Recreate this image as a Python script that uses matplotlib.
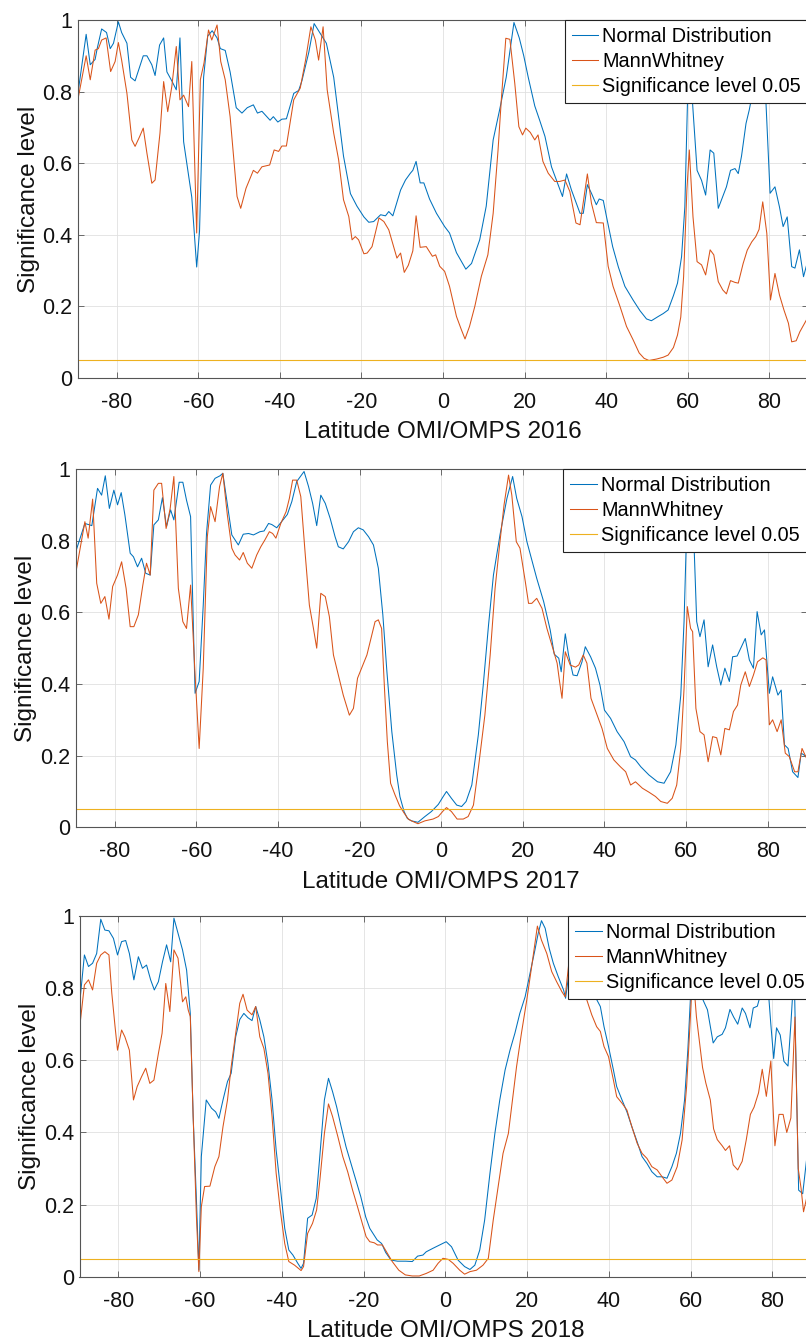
import matplotlib
matplotlib.use('Agg')
import matplotlib.pyplot as plt

plt.rcParams['font.family'] = ['Liberation Sans', 'DejaVu Sans']

# ---------------- data: (latitude, significance) ----------------
nd_2016 = [(-89.7,0.78),(-87.5,0.96),(-86.5,0.875),(-85.3,0.89),(-84.8,0.92),(-83.7,0.975),(-82.5,0.965),(-81.6,0.92),(-80.8,0.935),(-79.6,0.995),(-78.8,0.965),(-77.5,0.935),(-76.6,0.84),(-75.5,0.83),(-73.5,0.90),(-72.6,0.90),(-71.4,0.875),(-70.6,0.845),(-69.5,0.93),(-68.5,0.95),(-67.7,0.855),(-66.5,0.83),(-65.4,0.805),(-64.5,0.95),(-63.6,0.66),(-61.6,0.505),(-60.4,0.31),(-59.7,0.41),(-58.7,0.84),(-57.7,0.955),(-56.6,0.97),(-55.4,0.95),(-54.6,0.92),(-53.4,0.915),(-52.2,0.855),(-50.7,0.755),(-49.3,0.74),(-48.0,0.755),(-46.5,0.763),(-45.5,0.74),(-44.4,0.745),(-42.4,0.72),(-41.6,0.73),(-40.5,0.715),(-39.5,0.723),(-38.4,0.724),(-36.6,0.795),(-35.4,0.803),(-34.6,0.83),(-32.9,0.91),(-31.6,0.99),(-30.5,0.97),(-29.7,0.955),(-28.6,0.935),(-26.8,0.84),(-24.4,0.62),(-22.7,0.515),(-21.1,0.48),(-19.4,0.45),(-18.2,0.435),(-17.0,0.437),(-15.3,0.456),(-14.1,0.453),(-13.3,0.465),(-12.3,0.453),(-10.4,0.525),(-9.2,0.553),(-8.0,0.572),(-7.4,0.58),(-6.6,0.605),(-5.6,0.545),(-4.7,0.545),(-3.3,0.50),(-1.6,0.46),(0.4,0.423),(1.6,0.405),(3.3,0.35),(5.6,0.304),(7.0,0.32),(9.0,0.386),(10.6,0.48),(12.3,0.665),(13.9,0.75),(15.5,0.84),(17.4,0.993),(18.7,0.95),(19.8,0.90),(20.9,0.84),(22.5,0.76),(23.7,0.72),(25.0,0.675),(26.6,0.59),(27.8,0.553),(29.3,0.507),(30.3,0.57),(31.5,0.525),(33.6,0.46),(34.4,0.46),(35.4,0.54),(36.4,0.516),(37.6,0.484),(38.3,0.50),(39.3,0.496),(40.1,0.45),(41.6,0.367),(43.0,0.31),(44.6,0.256),(46.6,0.218),(48.3,0.188),(49.9,0.165),(51.1,0.16),(52.8,0.172),(54.0,0.18),(55.2,0.19),(56.5,0.23),(57.5,0.265),(58.5,0.339),(59.3,0.478),(60.3,0.93),(61.3,0.749),(62.3,0.58),(63.4,0.552),(64.4,0.511),(65.5,0.637),(66.4,0.628),(67.5,0.474),(68.6,0.507),(69.5,0.534),(70.5,0.58),(71.6,0.585),(72.4,0.571),(73.2,0.62),(74.3,0.711),(75.1,0.749),(76.3,0.82),(77.5,0.85),(78.4,0.83),(79.2,0.767),(80.2,0.516),(81.4,0.534),(82.5,0.478),(83.4,0.423),(84.4,0.45),(85.5,0.311),(86.3,0.307),(87.4,0.358),(88.4,0.283),(89.5,0.33)]

mw_2016 = [(-89.7,0.767),(-87.5,0.90),(-86.5,0.833),(-85.3,0.916),(-84.5,0.92),(-83.7,0.944),(-82.6,0.95),(-81.5,0.856),(-80.4,0.884),(-79.6,0.937),(-78.8,0.888),(-77.5,0.795),(-76.3,0.665),(-75.5,0.647),(-74.4,0.674),(-73.5,0.698),(-72.6,0.628),(-71.4,0.544),(-70.6,0.553),(-69.4,0.684),(-68.5,0.828),(-67.5,0.744),(-66.5,0.814),(-65.4,0.926),(-64.5,0.777),(-63.6,0.79),(-62.4,0.758),(-61.6,0.884),(-60.4,0.405),(-59.5,0.833),(-58.6,0.88),(-57.5,0.972),(-56.7,0.944),(-55.4,0.986),(-54.5,0.884),(-53.4,0.833),(-52.2,0.73),(-50.5,0.507),(-49.6,0.474),(-48.3,0.53),(-46.5,0.58),(-45.5,0.572),(-44.4,0.59),(-42.5,0.595),(-41.4,0.637),(-40.3,0.633),(-39.5,0.648),(-38.4,0.648),(-36.6,0.777),(-35.0,0.81),(-33.7,0.888),(-32.4,0.981),(-31.3,0.944),(-30.5,0.888),(-29.4,0.981),(-28.4,0.805),(-26.8,0.684),(-25.6,0.61),(-24.4,0.498),(-23.1,0.451),(-22.3,0.386),(-21.5,0.395),(-20.7,0.386),(-19.4,0.347),(-18.6,0.349),(-17.4,0.367),(-15.7,0.447),(-14.5,0.437),(-13.3,0.414),(-12.1,0.367),(-11.3,0.335),(-10.4,0.349),(-9.5,0.295),(-8.5,0.315),(-7.4,0.355),(-6.6,0.453),(-5.6,0.365),(-4.1,0.367),(-2.6,0.34),(-1.8,0.344),(-0.8,0.312),(0.4,0.298),(1.6,0.256),(3.3,0.172),(4.5,0.135),(5.4,0.109),(6.5,0.144),(7.8,0.2),(9.4,0.284),(11.0,0.344),(12.3,0.46),(13.5,0.637),(14.3,0.777),(15.4,0.949),(16.4,0.946),(17.6,0.823),(18.6,0.702),(19.5,0.679),(20.3,0.698),(21.4,0.686),(22.5,0.665),(23.3,0.679),(24.5,0.605),(25.8,0.572),(27.4,0.549),(28.6,0.549),(29.9,0.553),(31.1,0.521),(32.6,0.433),(33.6,0.428),(35.4,0.57),(36.4,0.488),(37.6,0.434),(39.3,0.433),(40.5,0.312),(41.7,0.256),(43.4,0.2),(45.0,0.144),(46.6,0.107),(48.1,0.07),(49.3,0.055),(50.5,0.049),(52.4,0.053),(54.0,0.058),(55.2,0.064),(56.5,0.085),(57.5,0.12),(58.3,0.17),(59.0,0.283),(59.8,0.525),(60.4,0.637),(61.3,0.45),(62.3,0.325),(63.4,0.316),(64.4,0.288),(65.5,0.358),(66.4,0.344),(67.5,0.269),(68.6,0.246),(69.5,0.235),(70.5,0.272),(71.6,0.267),(72.4,0.265),(73.6,0.32),(74.6,0.357),(75.7,0.38),(76.7,0.395),(77.5,0.415),(78.4,0.492),(79.4,0.404),(80.3,0.218),(81.4,0.292),(82.5,0.232),(83.6,0.19),(84.7,0.153),(85.5,0.101),(86.6,0.104),(87.5,0.129),(89.5,0.17)]

nd_2017 = [(-89.4,0.774),(-87.3,0.848),(-85.6,0.842),(-84.2,0.946),(-83.2,0.927),(-82.3,0.981),(-81.3,0.89),(-80.2,0.941),(-79.3,0.90),(-78.4,0.934),(-77.5,0.872),(-76.2,0.765),(-75.4,0.755),(-74.4,0.727),(-73.4,0.751),(-72.4,0.709),(-71.3,0.704),(-70.4,0.844),(-69.3,0.858),(-68.3,0.92),(-67.3,0.839),(-66.3,0.886),(-65.5,0.858),(-64.2,0.963),(-63.3,0.963),(-62.4,0.913),(-61.4,0.867),(-60.3,0.374),(-59.3,0.407),(-58.3,0.62),(-57.5,0.82),(-56.5,0.955),(-55.4,0.974),(-54.2,0.981),(-53.5,0.988),(-52.5,0.909),(-51.3,0.816),(-49.7,0.788),(-48.5,0.818),(-47.2,0.82),(-46.0,0.816),(-44.4,0.825),(-43.4,0.827),(-42.3,0.848),(-41.5,0.845),(-40.3,0.836),(-39.1,0.853),(-37.7,0.873),(-36.6,0.909),(-35.4,0.965),(-33.6,0.993),(-32.5,0.951),(-31.5,0.904),(-30.5,0.842),(-29.5,0.927),(-28.4,0.904),(-27.2,0.862),(-26.0,0.811),(-25.2,0.783),(-24.0,0.777),(-22.7,0.797),(-21.5,0.825),(-20.3,0.836),(-19.1,0.83),(-17.8,0.811),(-16.6,0.788),(-15.4,0.723),(-14.3,0.593),(-13.3,0.434),(-12.1,0.267),(-10.9,0.146),(-10.1,0.085),(-9.1,0.044),(-8.3,0.025),(-7.3,0.018),(-5.7,0.014),(-4.0,0.03),(-2.4,0.044),(-0.7,0.064),(0.5,0.086),(1.3,0.1),(2.5,0.081),(3.8,0.062),(5.0,0.058),(6.1,0.072),(7.5,0.118),(9.1,0.258),(10.3,0.397),(11.6,0.565),(12.8,0.704),(14.4,0.816),(16.1,0.918),(17.5,0.979),(18.5,0.918),(19.8,0.867),(21.0,0.797),(22.2,0.746),(23.4,0.695),(25.1,0.63),(26.7,0.551),(27.7,0.483),(28.8,0.472),(29.4,0.434),(30.4,0.54),(31.2,0.481),(32.3,0.425),(33.3,0.423),(34.5,0.462),(35.3,0.504),(36.6,0.476),(37.8,0.444),(38.9,0.397),(40.0,0.327),(41.5,0.304),(43.1,0.267),(44.8,0.239),(46.4,0.197),(47.6,0.188),(48.9,0.169),(50.9,0.146),(53.0,0.127),(54.6,0.123),(56.2,0.155),(57.5,0.23),(58.7,0.369),(59.5,0.574),(60.3,0.9),(61.4,0.92),(62.0,0.77),(62.6,0.574),(63.4,0.532),(64.4,0.579),(65.4,0.448),(66.5,0.509),(67.5,0.448),(68.5,0.397),(69.5,0.444),(70.6,0.407),(71.4,0.476),(72.5,0.478),(73.4,0.5),(74.5,0.527),(75.5,0.467),(76.5,0.444),(77.4,0.602),(78.4,0.537),(79.2,0.551),(80.4,0.374),(81.2,0.42),(82.5,0.369),(83.3,0.383),(84.1,0.23),(85.0,0.22),(86.1,0.155),(87.4,0.139),(88.2,0.207),(89.5,0.197)]

mw_2017 = [(-89.4,0.718),(-87.3,0.853),(-86.5,0.807),(-85.4,0.916),(-84.4,0.681),(-83.4,0.625),(-82.4,0.644),(-81.4,0.581),(-80.5,0.672),(-79.3,0.704),(-78.3,0.741),(-77.2,0.667),(-76.2,0.56),(-75.3,0.56),(-74.2,0.593),(-73.1,0.676),(-72.2,0.737),(-71.3,0.704),(-70.4,0.941),(-69.3,0.96),(-68.5,0.96),(-67.4,0.834),(-66.4,0.89),(-65.5,0.979),(-64.4,0.667),(-63.3,0.574),(-62.4,0.555),(-61.4,0.676),(-60.3,0.425),(-59.3,0.22),(-58.3,0.444),(-57.3,0.811),(-56.5,0.895),(-55.4,0.853),(-54.3,0.951),(-53.5,0.988),(-52.4,0.872),(-51.3,0.779),(-50.5,0.76),(-49.4,0.746),(-48.5,0.767),(-47.5,0.737),(-46.4,0.723),(-45.2,0.76),(-44.2,0.783),(-43.2,0.802),(-42.1,0.825),(-41.3,0.82),(-40.5,0.807),(-39.3,0.848),(-38.0,0.881),(-37.2,0.918),(-36.4,0.969),(-35.4,0.969),(-34.4,0.923),(-33.3,0.76),(-32.3,0.62),(-31.3,0.555),(-30.5,0.5),(-29.5,0.653),(-28.4,0.644),(-27.4,0.588),(-26.4,0.481),(-25.2,0.425),(-24.0,0.369),(-22.5,0.313),(-21.5,0.332),(-20.5,0.416),(-19.5,0.444),(-18.2,0.481),(-17.3,0.523),(-16.2,0.574),(-15.4,0.579),(-14.6,0.555),(-13.9,0.388),(-13.2,0.239),(-12.4,0.123),(-11.3,0.09),(-10.2,0.06),(-9.1,0.04),(-8.0,0.022),(-6.9,0.016),(-5.7,0.01),(-4.0,0.018),(-2.0,0.023),(-0.7,0.03),(0.5,0.046),(1.3,0.055),(2.5,0.044),(3.9,0.023),(5.4,0.023),(6.6,0.03),(7.9,0.062),(9.1,0.165),(10.7,0.313),(12.0,0.481),(13.2,0.667),(14.4,0.797),(15.4,0.9),(16.5,0.983),(17.3,0.927),(18.4,0.797),(19.3,0.779),(20.6,0.686),(21.4,0.625),(22.2,0.625),(23.4,0.639),(24.7,0.611),(25.9,0.555),(27.1,0.509),(28.4,0.458),(29.0,0.407),(29.6,0.36),(30.4,0.49),(31.6,0.453),(32.9,0.447),(33.7,0.453),(34.8,0.481),(35.7,0.458),(36.7,0.36),(38.2,0.313),(39.4,0.276),(40.7,0.22),(42.3,0.188),(43.9,0.169),(45.2,0.155),(46.4,0.118),(47.6,0.127),(49.3,0.109),(50.9,0.098),(52.5,0.086),(53.8,0.072),(55.4,0.067),(56.6,0.081),(57.7,0.118),(58.7,0.22),(59.5,0.388),(60.3,0.616),(61.1,0.555),(61.6,0.546),(62.4,0.332),(63.4,0.267),(64.4,0.258),(65.4,0.183),(66.5,0.253),(67.5,0.25),(68.5,0.202),(69.5,0.276),(70.6,0.272),(71.6,0.323),(72.6,0.341),(73.4,0.397),(74.5,0.434),(75.5,0.393),(76.5,0.425),(77.5,0.462),(78.8,0.473),(79.6,0.467),(80.4,0.286),(81.2,0.3),(82.3,0.267),(83.3,0.3),(84.3,0.207),(85.3,0.197),(86.6,0.155),(87.4,0.155),(88.4,0.22),(89.5,0.193)]

nd_2018 = [(-89.3,0.776),(-88.3,0.892),(-87.3,0.86),(-86.3,0.869),(-85.3,0.896),(-84.3,0.991),(-83.3,0.961),(-82.3,0.959),(-81.2,0.938),(-80.2,0.892),(-79.2,0.929),(-78.2,0.932),(-77.3,0.896),(-76.2,0.823),(-75.1,0.887),(-74.1,0.855),(-73.1,0.864),(-72.1,0.823),(-71.2,0.795),(-70.2,0.818),(-69.2,0.873),(-68.2,0.92),(-67.2,0.873),(-66.4,0.994),(-65.4,0.952),(-64.3,0.906),(-63.3,0.85),(-62.4,0.73),(-61.7,0.444),(-60.9,0.213),(-60.3,0.018),(-59.7,0.333),(-58.5,0.49),(-57.2,0.467),(-56.2,0.457),(-55.4,0.439),(-54.4,0.49),(-53.3,0.541),(-52.4,0.564),(-51.3,0.665),(-50.3,0.713),(-49.3,0.73),(-48.3,0.718),(-47.3,0.71),(-46.4,0.749),(-45.4,0.712),(-44.4,0.665),(-43.4,0.591),(-42.4,0.49),(-41.4,0.351),(-40.4,0.25),(-39.3,0.134),(-38.3,0.074),(-37.3,0.06),(-36.1,0.037),(-35.3,0.023),(-34.7,0.037),(-33.7,0.162),(-32.6,0.171),(-31.6,0.217),(-30.8,0.323),(-29.6,0.49),(-28.6,0.55),(-27.6,0.513),(-26.6,0.471),(-25.5,0.416),(-24.3,0.36),(-23.1,0.314),(-21.9,0.268),(-20.7,0.222),(-19.5,0.166),(-18.5,0.134),(-17.5,0.116),(-16.7,0.102),(-15.6,0.092),(-14.6,0.067),(-13.3,0.046),(-11.7,0.043),(-9.7,0.043),(-8.1,0.042),(-6.8,0.057),(-5.5,0.06),(-4.7,0.069),(-3.0,0.079),(-1.4,0.088),(0.2,0.097),(1.5,0.083),(3.1,0.046),(4.7,0.028),(6.0,0.02),(7.2,0.032),(8.4,0.074),(9.6,0.157),(10.9,0.287),(12.1,0.397),(13.3,0.49),(14.6,0.573),(15.8,0.628),(17.0,0.675),(18.2,0.73),(19.5,0.776),(20.7,0.841),(21.9,0.906),(22.7,0.952),(23.5,0.987),(24.4,0.966),(25.4,0.91),(26.4,0.869),(27.6,0.832),(28.9,0.795),(29.4,0.772),(30.1,0.832),(30.7,0.887),(32.0,0.86),(34.0,0.82),(36.0,0.79),(37.9,0.749),(38.8,0.693),(39.9,0.638),(41.1,0.573),(41.9,0.527),(43.2,0.49),(44.4,0.457),(45.6,0.416),(46.9,0.374),(48.1,0.333),(49.3,0.314),(50.5,0.291),(51.8,0.277),(53.0,0.277),(54.2,0.273),(55.4,0.305),(56.5,0.342),(57.5,0.397),(58.5,0.49),(59.3,0.628),(59.9,0.767),(60.5,0.9),(61.2,0.82),(62.5,0.78),(64.1,0.74),(65.5,0.648),(66.5,0.665),(67.7,0.672),(68.5,0.69),(69.6,0.741),(70.5,0.72),(71.5,0.70),(72.6,0.745),(73.4,0.73),(74.5,0.69),(75.3,0.745),(76.3,0.75),(77.5,0.8),(78.8,0.82),(79.6,0.7),(80.3,0.605),(81.0,0.69),(81.9,0.67),(82.8,0.597),(83.8,0.584),(84.5,0.7),(85.3,0.85),(86.4,0.24),(87.4,0.23),(88.4,0.33),(89.5,0.22)]

mw_2018 = [(-89.3,0.707),(-88.3,0.809),(-87.3,0.823),(-86.3,0.795),(-85.3,0.869),(-84.3,0.892),(-83.3,0.901),(-82.3,0.892),(-81.6,0.786),(-80.8,0.693),(-80.2,0.628),(-79.2,0.684),(-78.4,0.665),(-77.3,0.628),(-76.3,0.49),(-75.4,0.527),(-74.3,0.555),(-73.3,0.578),(-72.3,0.536),(-71.3,0.545),(-70.2,0.619),(-69.3,0.675),(-68.4,0.813),(-67.4,0.735),(-66.4,0.906),(-65.4,0.883),(-64.3,0.762),(-63.5,0.776),(-62.9,0.739),(-62.4,0.721),(-61.7,0.444),(-60.9,0.166),(-60.3,0.014),(-59.7,0.194),(-58.9,0.25),(-57.6,0.251),(-56.4,0.305),(-55.4,0.333),(-54.4,0.416),(-53.3,0.49),(-52.4,0.582),(-51.3,0.675),(-50.3,0.758),(-49.5,0.783),(-48.5,0.739),(-47.3,0.726),(-46.4,0.749),(-45.4,0.665),(-44.4,0.633),(-43.4,0.564),(-42.4,0.444),(-41.4,0.287),(-40.4,0.185),(-39.3,0.092),(-38.3,0.042),(-36.9,0.032),(-35.3,0.017),(-34.7,0.028),(-33.7,0.12),(-32.5,0.148),(-31.5,0.185),(-30.7,0.268),(-29.6,0.397),(-28.6,0.479),(-27.6,0.444),(-26.3,0.388),(-25.1,0.333),(-23.9,0.291),(-22.7,0.24),(-21.5,0.194),(-20.2,0.143),(-19.4,0.111),(-18.5,0.097),(-17.4,0.094),(-16.6,0.088),(-15.4,0.088),(-14.2,0.065),(-13.0,0.042),(-11.4,0.018),(-9.8,0.005),(-8.1,0.002),(-6.4,0.002),(-4.7,0.009),(-3.0,0.018),(-1.8,0.037),(-0.6,0.051),(0.7,0.048),(1.9,0.037),(3.5,0.018),(4.7,0.007),(6.0,0.014),(7.6,0.018),(9.2,0.032),(10.5,0.051),(11.7,0.157),(12.9,0.25),(14.1,0.342),(15.4,0.397),(16.4,0.49),(17.4,0.582),(18.6,0.675),(19.9,0.767),(21.1,0.86),(22.5,0.972),(23.5,0.933),(24.8,0.896),(26.0,0.846),(27.2,0.818),(28.5,0.79),(29.3,0.776),(30.1,0.86),(30.5,0.929),(32.0,0.86),(33.5,0.8),(34.6,0.767),(35.8,0.726),(37.0,0.693),(37.9,0.68),(38.8,0.638),(39.9,0.61),(41.1,0.545),(41.9,0.499),(43.2,0.481),(44.4,0.462),(45.6,0.416),(46.9,0.37),(48.1,0.342),(49.3,0.328),(50.5,0.305),(51.8,0.296),(53.0,0.277),(54.2,0.259),(55.4,0.268),(56.7,0.305),(57.9,0.379),(59.0,0.527),(59.8,0.693),(60.5,0.85),(61.4,0.721),(62.0,0.665),(62.9,0.58),(63.7,0.537),(64.8,0.49),(65.6,0.41),(66.5,0.38),(67.7,0.363),(68.5,0.35),(69.5,0.363),(70.4,0.31),(71.5,0.296),(72.6,0.32),(73.6,0.38),(74.6,0.45),(75.5,0.47),(76.6,0.51),(77.5,0.575),(78.5,0.50),(79.6,0.598),(80.6,0.363),(81.6,0.45),(82.6,0.45),(83.5,0.40),(84.5,0.44),(85.5,0.72),(86.3,0.3),(87.0,0.245),(87.6,0.18),(88.4,0.22),(89.5,0.2)]

years = ['2016', '2017', '2018']
nd_series = [nd_2016, nd_2017, nd_2018]
mw_series = [mw_2016, mw_2017, mw_2018]
sig_level = 0.05
x_ticks = [-80, -60, -40, -20, 0, 20, 40, 60, 80]
y_ticks = [0, 0.2, 0.4, 0.6, 0.8, 1.0]
y_ticklabels = ['0', '0.2', '0.4', '0.6', '0.8', '1']

C_ND = '#0072BD'
C_MW = '#D95319'
C_SIG = '#EDB120'

W, H = 806, 1342
fig = plt.figure(figsize=(W / 100, H / 100), dpi=100)

# pixel boxes: left, right, top, bottom
boxes = [(78.0, 808.0, 20.0, 378.0),
         (75.9, 806.5, 469.0, 827.3),
         (79.5, 811.3, 916.0, 1276.7)]

for yr, nd, mw, (l, r, t, b) in zip(years, nd_series, mw_series, boxes):
    ax = fig.add_axes([l / W, 1 - b / H, (r - l) / W, (b - t) / H])
    x1, y1 = zip(*nd)
    x2, y2 = zip(*mw)
    ax.plot(x1, y1, color=C_ND, lw=0.75, label='Normal Distribution')
    ax.plot(x2, y2, color=C_MW, lw=0.75, label='MannWhitney')
    ax.axhline(sig_level, color=C_SIG, lw=0.8, label='Significance level 0.05')
    ax.set_xlim(-89.5, 89.5)
    ax.set_ylim(0, 1)
    ax.set_xticks(x_ticks)
    ax.set_xticklabels([str(v) for v in x_ticks])
    ax.set_yticks(y_ticks)
    ax.set_yticklabels(y_ticklabels)
    ax.grid(True, color='#e0e0e0', lw=0.6)
    ax.set_axisbelow(True)
    ax.tick_params(direction='in', length=4, width=0.6, top=True, right=True,
                   labelsize=15.5, colors='#555555', labelcolor='#111111')
    ax.tick_params(axis='x', pad=10)
    ax.tick_params(axis='y', pad=4)
    for s in ax.spines.values():
        s.set_color('#555555')
        s.set_linewidth(0.8)
    ax.set_xlabel('Latitude OMI/OMPS ' + yr, fontsize=17.5, labelpad=6, color='#111111')
    ax.set_ylabel('Significance level', fontsize=17.5, labelpad=2, color='#111111')
    leg = ax.legend(loc='upper right', borderaxespad=0, fancybox=False, framealpha=1,
                    edgecolor='#222222', fontsize=14.3, handlelength=1.35,
                    handletextpad=0.2, labelspacing=0.3, borderpad=0.35)
    leg.get_frame().set_linewidth(0.8)

fig.savefig('out.png', dpi=100)
